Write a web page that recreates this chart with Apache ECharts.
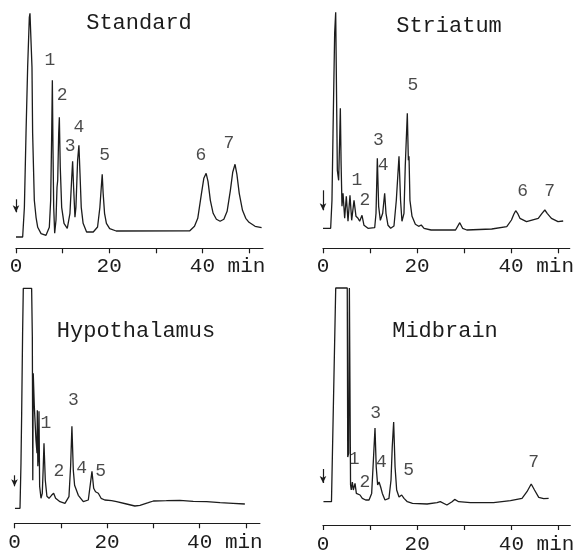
<!DOCTYPE html>
<html><head><meta charset="utf-8">
<script src="https://cdn.jsdelivr.net/npm/echarts@6/dist/echarts.min.js"></script>
<style>html,body{margin:0;padding:0;background:#fff}#c{width:586px;height:559px}</style>
</head><body><div id="c"></div>
<script>
// ---- data (time in min, detector signal in arbitrary units) ----
const panelTitles = ['Standard', 'Striatum', 'Hypothalamus', 'Midbrain'];
const tickLabels = {0: '0', 20: '20', 40: '    40 min'};

const standardTrace = [[0,11.3],[1.43,11.3],[1.8,41],[2.15,115],[2.5,181],[2.86,231],[3.0,235],[3.3,235],[3.43,181],[3.57,115],[3.93,48],[4.3,31],[4.66,21],[5.38,14.7],[6.44,13],[7.15,21],[7.44,48],[7.66,115],[7.8,168],[7.94,98],[8.09,41],[8.3,15],[8.58,28],[8.8,61],[8.95,68],[9.16,115],[9.3,131],[9.5,81],[9.8,41],[10.3,25],[11.0,20],[11.58,35],[11.93,68],[12.15,87],[12.36,61],[12.65,31],[12.86,41],[13.22,88],[13.5,103],[13.73,75],[14.0,41],[14.4,25],[15.15,16.3],[16.58,16.3],[17.5,21.3],[18.0,41],[18.3,61],[18.5,74],[18.7,55],[19.0,35],[19.4,25],[20.1,19.7],[21.5,17.3],[37.3,17.5],[38.3,22],[39.0,30],[39.8,55],[40.3,70],[40.8,75],[41.2,67],[41.7,48],[42.3,35],[43.0,29],[43.8,27],[44.6,29],[45.3,37],[46.0,58],[46.5,76],[47.0,84],[47.4,74],[47.9,55],[48.6,38],[49.3,30],[50.0,26],[51.3,22],[52.7,20.7]];

const striatumTrace = [[0,20],[1.63,20],[1.91,48],[2.13,115],[2.48,215],[2.7,236],[2.91,236],[3.05,78],[3.33,68],[3.55,110],[3.69,140],[3.85,85],[4.04,42],[4.26,55],[4.61,30],[4.96,52],[5.32,27],[5.74,53],[6.1,28],[6.6,48],[7.02,32],[7.45,30],[7.8,27],[8.3,33],[8.72,23],[9.57,20],[11.0,20.6],[11.28,35],[11.56,90],[11.84,42],[12.2,28],[12.7,35],[13.12,55],[13.4,35],[13.83,23],[14.4,20],[15.1,22.3],[15.6,48],[16.17,92],[16.5,48],[16.8,27],[17.23,35],[17.5,82],[17.94,135],[18.16,88],[18.3,92],[18.5,48],[18.94,32],[19.65,24],[20.35,22],[20.9,23.3],[21.5,20],[23.0,18.3],[28.2,18.3],[28.5,20],[29.1,25.6],[29.7,20],[30.6,18.3],[35.9,19.3],[39.1,21.6],[40.1,28.3],[40.6,34],[41.0,37.6],[41.4,35],[41.9,30],[43.3,26.6],[45.8,30],[46.6,35],[47.2,38.3],[47.7,35],[48.6,30],[50.0,26.6],[51.1,27.3]];

const hypothalamusTrace = [[0.1,15],[1.19,15],[1.4,60],[1.55,110],[1.75,190],[1.9,235],[3.7,235],[3.85,187],[3.95,43],[4.05,150],[4.28,117],[4.64,83],[4.86,70],[4.93,113],[5.04,57],[5.2,70],[5.29,112],[5.43,37],[5.72,25],[6.0,30],[6.2,55],[6.37,80],[6.65,43],[7.0,27],[7.45,25],[8.0,28],[8.45,30],[8.88,25],[9.82,21.6],[10.9,20],[11.76,26.6],[12.12,57],[12.4,97],[12.7,53],[12.98,38],[13.27,36.6],[13.78,28],[14.86,21.6],[15.94,23.3],[16.4,40],[16.73,52],[17.1,35],[17.5,31.6],[18.1,30],[18.7,25],[19.5,23.3],[20.97,22.6],[22.05,21.6],[24.2,19.3],[26.0,17.3],[27.1,18],[28.9,20.6],[30.0,22.3],[32.8,22.6],[35.7,23],[38.6,22],[41.5,21.6],[44.4,20.6],[47.2,20],[49.75,19.3]];

const midbrainTrace = [[0.1,23.3],[1.8,23.3],[2.7,237],[5.15,237],[5.25,68],[5.45,72],[5.6,237],[5.85,40],[6.0,35],[6.23,43],[6.44,35],[6.8,41.6],[7.08,31.6],[7.5,31.6],[7.86,30],[8.35,26.6],[9.06,25],[9.77,25],[10.33,31.6],[10.7,65],[11.04,97],[11.3,58],[11.6,40],[11.9,43],[12.24,38],[12.6,31.6],[13.16,25],[14.0,26.6],[14.44,45],[14.7,78],[15.0,103],[15.3,58],[15.64,35],[16.14,28],[16.7,30],[17.2,26.6],[17.9,23.3],[19.0,21.6],[22.1,21],[24.2,22.3],[24.9,23.3],[26.3,20],[27.4,23.3],[27.95,25.6],[28.8,23.3],[31.3,22.3],[36.2,22.3],[39.8,24.3],[42.25,26.6],[43.3,33.3],[44.2,41],[44.9,35],[45.8,27.6],[46.85,26.3],[47.9,26.6]];

// peak number labels: [time, signal, text]
const standardPeaks = [[7.3,188,'1'],[9.9,153,'2'],[11.6,102,'3'],[13.5,121,'4'],[19.0,93,'5'],[39.7,93,'6'],[45.7,105,'7']];
const striatumPeaks = [[7.2,68,'1'],[8.9,48,'2'],[11.8,108,'3'],[12.8,83,'4'],[19.15,163,'5'],[42.5,57,'6'],[48.2,57,'7']];
const hypothalamusPeaks = [[6.8,100,'1'],[9.6,52,'2'],[12.7,123,'3'],[14.5,55,'4'],[18.6,52,'5']];
const midbrainPeaks = [[6.6,66,'1'],[8.9,43,'2'],[11.2,112,'3'],[12.4,63,'4'],[18.2,55,'5'],[44.7,63,'7']];

// injection arrows: [time, signal top, signal bottom]
const injectionArrows = [[0,49,36],[0,58,38],[0,48,37],[0,56,42]];
const axisMax = [53, 52.5, 53, 52.5];

// ---- layout ----
const grids = [
  {left: 16, top: 11.3, width: 247, height: 237},
  {left: 323, top: 11.3, width: 246.75, height: 237},
  {left: 14.5, top: 286.3, width: 245.4, height: 237},
  {left: 323, top: 288, width: 247.3, height: 237}
];
const titlePos = [[139, 23.5], [449, 26.5], [136, 331.5], [445, 331.5]];
const labelMargin = [8, 8, 9, 9];
const traces = [standardTrace, striatumTrace, hypothalamusTrace, midbrainTrace];
const peaks = [standardPeaks, striatumPeaks, hypothalamusPeaks, midbrainPeaks];

const FONT = 'Liberation Mono';
const INK = '#1c1c1c';

const option = {
  animation: false,
  backgroundColor: '#fff',
  title: panelTitles.map((t, i) => ({
    text: t, left: titlePos[i][0], top: titlePos[i][1], padding: 0,
    textAlign: 'center', textVerticalAlign: 'middle',
    textStyle: {fontFamily: FONT, fontSize: 22, fontWeight: 'normal', color: INK}
  })),
  grid: grids.map(g => Object.assign({outerBoundsMode: 'none', containLabel: false}, g)),
  xAxis: grids.map((g, i) => ({
    type: 'value', gridIndex: i, min: 0, max: axisMax[i], interval: 10,
    axisLine: {show: true, onZero: false, lineStyle: {color: INK, width: 1.2}},
    axisTick: {show: true, inside: false, length: 5, lineStyle: {color: INK, width: 1.2}},
    axisLabel: {
      show: true, margin: labelMargin[i], color: INK, fontFamily: FONT, fontSize: 21,
      showMaxLabel: false,
      formatter: v => tickLabels[v] !== undefined ? tickLabels[v] : ''
    },
    splitLine: {show: false}
  })),
  yAxis: grids.map((g, i) => ({type: 'value', gridIndex: i, min: 0, max: 237, show: false})),
  series: []
};

traces.forEach((tr, i) => {
  const a = injectionArrows[i];
  option.series.push({
    type: 'line', xAxisIndex: i, yAxisIndex: i, data: tr,
    showSymbol: false, symbol: 'none', clip: false,
    lineStyle: {color: INK, width: 1.3},
    markLine: {
      silent: true, symbol: ['none', 'arrow'], symbolSize: [5, 7],
      label: {show: false},
      lineStyle: {color: INK, width: 1.2, type: 'solid'},
      data: [[{coord: [a[0], a[1]]}, {coord: [a[0], a[2]]}]]
    }
  });
  option.series.push({
    type: 'scatter', xAxisIndex: i, yAxisIndex: i,
    symbolSize: 1, itemStyle: {color: 'rgba(0,0,0,0)'},
    data: peaks[i].map(p => ({value: [p[0], p[1]], name: p[2]})),
    label: {show: true, position: 'inside', formatter: '{b}', color: INK,
            fontFamily: FONT, fontSize: 18}
  });
});

const chart = echarts.init(document.getElementById('c'), null, {renderer: 'canvas'});
chart.setOption(option);
</script></body></html>
